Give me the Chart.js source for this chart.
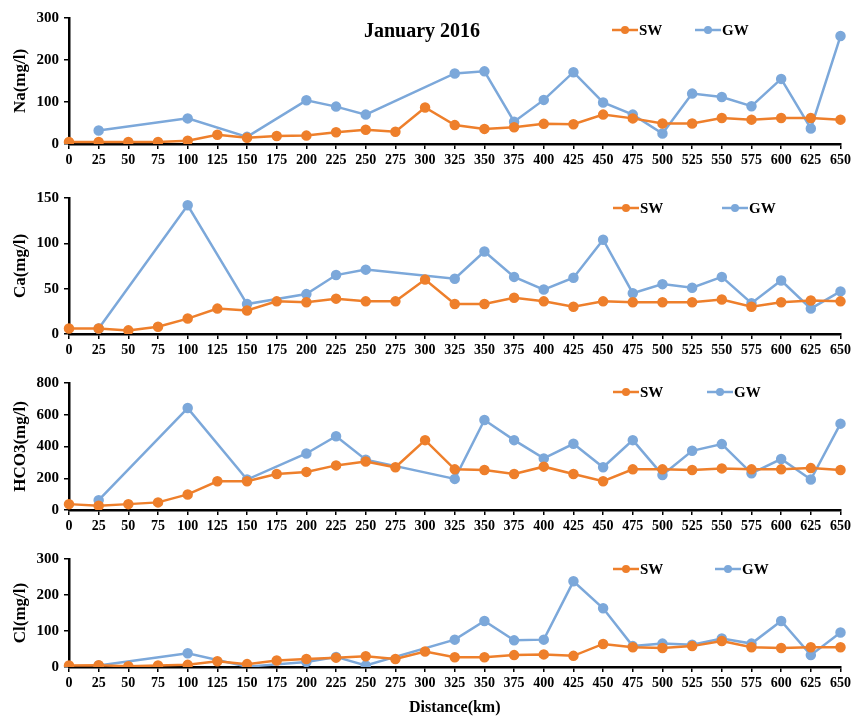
<!DOCTYPE html>
<html>
<head>
<meta charset="utf-8">
<script src="https://cdn.jsdelivr.net/npm/chart.js@4"></script>
<style>
  html, body { margin: 0; padding: 0; background: #fff; }
  #wrap { position: relative; width: 854px; height: 717px; }
  #wrap canvas { position: absolute; left: 0; }
</style>
</head>
<body>
<div id="wrap">
  <canvas id="cNa" width="854" height="172" style="top:0px"></canvas>
  <canvas id="cCa" width="854" height="190" style="top:172px"></canvas>
  <canvas id="cHco3" width="854" height="180" style="top:362px"></canvas>
  <canvas id="cCl" width="854" height="175" style="top:542px"></canvas>
</div>
<script>
// distance along the river (km)
const distances = [0, 25, 50, 75, 100, 125, 150, 175, 200, 225, 250, 275, 300, 325, 350, 375, 400, 425, 450, 475, 500, 525, 550, 575, 600, 625, 650];

// Na (mg/l)
const naSW = [5, 5, 5, 5, 8, 22, 15, 19, 20, 28, 34, 29, 87, 45, 36, 40, 48, 47, 70, 61, 49, 49, 62, 58, 62, 62, 58];
const naGW = [null, 32, null, null, 61, null, 17, null, 104, 89, 70, null, null, 168, 173, 53, 105, 171, 99, 70, 25, 120, 112, 90, 155, 37, 257];

// Ca (mg/l)
const caSW = [6, 6, 4, 8, 17, 28, 26, 36, 35, 39, 36, 36, 60, 33, 33, 40, 36, 30, 36, 35, 35, 35, 38, 30, 35, 37, 36];
const caGW = [null, 6, null, null, 142, null, 33, null, 44, 65, 71, null, null, 61, 91, 63, 49, 62, 104, 45, 55, 51, 63, 34, 59, 28, 47];

// HCO3 (mg/l)
const hco3SW = [37, 27, 37, 48, 98, 181, 181, 227, 240, 281, 306, 269, 440, 256, 252, 227, 273, 227, 181, 256, 256, 252, 262, 256, 256, 264, 252];
const hco3GW = [null, 62, null, null, 642, null, 192, null, 356, 465, 317, null, null, 196, 567, 440, 325, 417, 269, 440, 221, 373, 415, 231, 321, 192, 544];

// Cl (mg/l)
const clSW = [4, 5, 2, 4, 6, 16, 8, 18, 22, 26, 30, 22, 43, 27, 27, 33, 35, 31, 64, 55, 53, 58, 72, 55, 53, 55, 55];
const clGW = [null, 4, null, null, 38, null, 1, null, 14, 28, 4, null, null, 76, 128, 74, 76, 238, 163, 58, 65, 62, 79, 65, 128, 33, 96];

// y axis ranges
const naTicks = [0, 100, 200, 300];
const caTicks = [0, 50, 100, 150];
const hco3Ticks = [0, 200, 400, 600, 800];
const clTicks = [0, 100, 200, 300];

const seriesNames = ["SW", "GW"];
const chartTitle = "January 2016";
const xTitle = "Distance(km)";

const ORANGE = "#EE7F2B";
const BLUE = "#7CA8DA";
const SERIF = '"Liberation Serif", "Times New Roman", serif';

Chart.defaults.font.family = SERIF;
Chart.defaults.font.weight = "bold";
Chart.defaults.color = "#000";

// legend drawn inside the plot, like the original figure
const innerLegend = {
  id: "innerLegend",
  afterDraw(chart, args, opts) {
    const ctx = chart.ctx;
    const items = [
      { x: opts.swX, color: ORANGE, text: seriesNames[0] },
      { x: opts.gwX, color: BLUE, text: seriesNames[1] }
    ];
    ctx.save();
    items.forEach(it => {
      ctx.strokeStyle = it.color;
      ctx.lineWidth = 2.5;
      ctx.beginPath();
      ctx.moveTo(it.x, opts.y);
      ctx.lineTo(it.x + 26, opts.y);
      ctx.stroke();
      ctx.fillStyle = it.color;
      ctx.beginPath();
      ctx.arc(it.x + 13, opts.y, 4, 0, Math.PI * 2);
      ctx.fill();
      ctx.fillStyle = "#000";
      ctx.font = "bold 15px " + SERIF;
      ctx.textBaseline = "middle";
      ctx.textAlign = "left";
      ctx.fillText(it.text, it.x + 27, opts.y + 1);
    });
    if (opts.title) {
      ctx.font = "bold 20px " + SERIF;
      ctx.textAlign = "center";
      ctx.fillText(opts.title, opts.titleX, opts.titleY);
    }
    ctx.restore();
  }
};

function makeChart(id, sw, gw, ticks, yLabel, padTop, xHeight, legend, showXTitle) {
  const yMax = ticks[ticks.length - 1];
  new Chart(document.getElementById(id), {
    type: "line",
    data: {
      labels: distances,
      datasets: [
        {
          label: seriesNames[0],
          data: sw,
          borderColor: ORANGE,
          backgroundColor: ORANGE,
          pointBackgroundColor: ORANGE,
          pointBorderColor: ORANGE,
          borderWidth: 2.5,
          pointRadius: 4,
          tension: 0
        },
        {
          label: seriesNames[1],
          data: gw,
          borderColor: BLUE,
          backgroundColor: BLUE,
          pointBackgroundColor: BLUE,
          pointBorderColor: BLUE,
          borderWidth: 2.5,
          pointRadius: 4,
          spanGaps: true,
          tension: 0
        }
      ]
    },
    options: {
      responsive: false,
      animation: false,
      devicePixelRatio: 1,
      layout: { padding: { top: padTop, right: 11, left: 0, bottom: 0 } },
      plugins: {
        legend: { display: false },
        tooltip: { enabled: false },
        innerLegend: legend
      },
      scales: {
        x: {
          type: "category",
          offset: false,
          grid: { drawOnChartArea: false, drawTicks: true, tickLength: 5, color: "#000", lineWidth: 1.5 },
          border: { display: true, color: "#000", width: 2.5 },
          ticks: { autoSkip: false, maxRotation: 0, padding: 3, font: { size: 14, weight: "bold" } },
          title: { display: showXTitle, text: xTitle, font: { size: 16, weight: "bold" }, padding: { top: 2, bottom: 0 } },
          afterFit: s => { s.height = xHeight; }
        },
        y: {
          min: 0,
          max: yMax,
          afterBuildTicks: s => { s.ticks = ticks.map(v => ({ value: v })); },
          grid: { drawOnChartArea: false, drawTicks: true, tickLength: 5, color: "#000", lineWidth: 1.5 },
          border: { display: true, color: "#000", width: 2.5 },
          ticks: { padding: 5, font: { size: 15, weight: "bold" } },
          title: { display: true, text: yLabel, font: { size: 17, weight: "bold" }, padding: { top: 10, bottom: 0 } },
          afterFit: s => { s.width = 69; }
        }
      }
    },
    plugins: [innerLegend]
  });
}

makeChart("cNa", naSW, naGW, naTicks, "Na(mg/l)", 18, 28,
  { y: 30, swX: 612, gwX: 695, title: chartTitle, titleX: 422, titleY: 32 }, false);
makeChart("cCa", caSW, caGW, caTicks, "Ca(mg/l)", 26, 28,
  { y: 36, swX: 613, gwX: 722 }, false);
makeChart("cHco3", hco3SW, hco3GW, hco3Ticks, "HCO3(mg/l)", 21, 32,
  { y: 30, swX: 613, gwX: 707 }, false);
makeChart("cCl", clSW, clGW, clTicks, "Cl(mg/l)", 17, 50,
  { y: 27, swX: 613, gwX: 715 }, true);
</script>
</body>
</html>
